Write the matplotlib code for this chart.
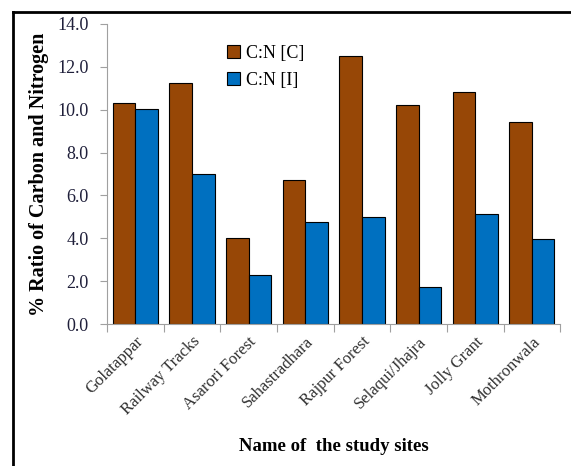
import numpy as np
import matplotlib.pyplot as plt
from matplotlib.lines import Line2D

sites = ['Golatappar', 'Railway Tracks', 'Asarori Forest', 'Sahastradhara',
         'Rajpur Forest', 'Selaqui/Jhajra', 'Jolly Grant', 'Mothronwala']
cn_c = [10.3, 11.25, 4.0, 6.7, 12.5, 10.2, 10.85, 9.45]
cn_i = [10.05, 7.0, 2.3, 4.75, 5.0, 1.75, 5.15, 3.95]
yticks = [0, 2, 4, 6, 8, 10, 12, 14]

plt.rcParams['font.family'] = ['Liberation Serif', 'DejaVu Serif']

fig = plt.figure(figsize=(5.71, 4.66), dpi=100)
ax = fig.add_axes([0.1874, 0.3047, 0.7936, 0.6438])

x = np.arange(len(sites))
w = 0.4
ax.bar(x - w / 2, cn_c, w, color='#974706', edgecolor='black', linewidth=0.8, label='C:N [C]')
ax.bar(x + w / 2, cn_i, w, color='#0070c0', edgecolor='black', linewidth=0.8, label='C:N [I]')

ax.set_xlim(-0.5, len(sites) - 0.5)
ax.set_ylim(0, 14)
ax.set_yticks(yticks)
ax.set_yticklabels([f'{v:.1f}' for v in yticks], fontsize=13, color='#1f1f3a')

# category ticks sit between groups
ax.set_xticks(np.arange(len(sites) + 1) - 0.5)
ax.set_xticklabels([])
ax.set_xticks(x, minor=True)
ax.set_xticklabels(sites, minor=True, rotation=45, ha='right', va='top',
                   rotation_mode='anchor', fontsize=12, color='#303030')
ax.tick_params(axis='x', which='minor', length=0, pad=7)
ax.tick_params(axis='x', which='major', length=6, color='#a0a0a0')
ax.tick_params(axis='y', length=5, color='#a0a0a0', pad=8)

for s in ['top', 'right']:
    ax.spines[s].set_visible(False)
for s in ['left', 'bottom']:
    ax.spines[s].set_color('#a0a0a0')

ax.set_ylabel('% Ratio of Carbon and Nitrogen', fontsize=14.5, fontweight='bold', labelpad=6)
ax.set_xlabel('Name of  the study sites', fontsize=13.5, fontweight='bold', labelpad=14)

ax.legend(loc='upper left', bbox_to_anchor=(0.23, 0.985), frameon=False, fontsize=13,
          handlelength=0.7, handleheight=0.7, handletextpad=0.3, labelspacing=0.55)

# outer frame
fx = 13 / 571
fy = 1 - 12 / 466
fig.add_artist(Line2D([fx, fx], [0, fy], color='black', linewidth=2, transform=fig.transFigure))
fig.add_artist(Line2D([fx, 1], [fy, fy], color='black', linewidth=2, transform=fig.transFigure))

fig.savefig('out.png', dpi=100)
